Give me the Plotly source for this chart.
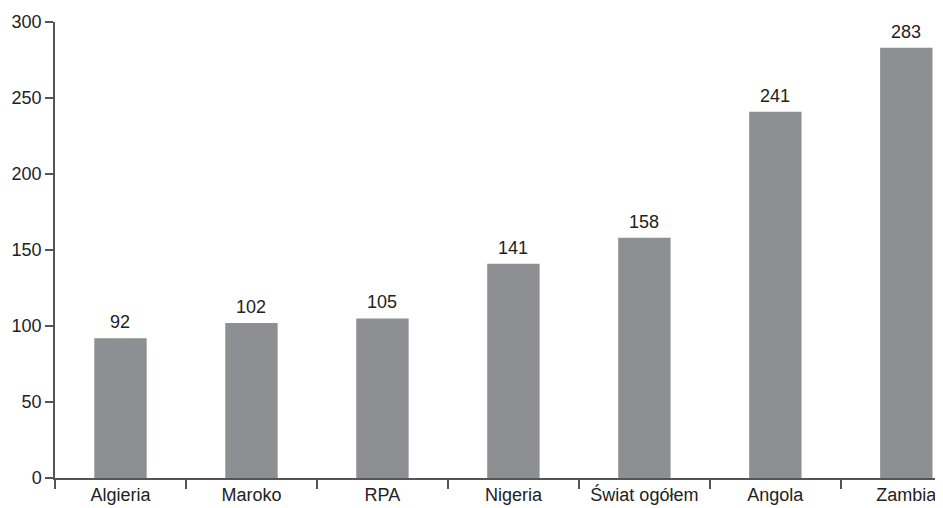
import plotly.graph_objects as go

categories = ["Algieria", "Maroko", "RPA", "Nigeria", "Świat ogółem", "Angola", "Zambia"]
values = [92, 102, 105, 141, 158, 241, 283]
y_ticks = [0, 50, 100, 150, 200, 250, 300]

FONT = "Liberation Sans, Arial, sans-serif"

fig = go.Figure()
fig.add_trace(go.Bar(
    x=categories, y=values,
    width=0.4,
    marker=dict(color="#8e8f93", line=dict(width=0)),
    hoverinfo="x+y",
))

for c, v in zip(categories, values):
    fig.add_annotation(
        x=c, y=v, text=str(v), showarrow=False,
        yanchor="bottom", yshift=4,
        font=dict(family=FONT, size=18, color="#222222"),
    )

# page body has an 8px margin, so the figure is sized to fit the window
fig.update_layout(
    width=935, height=500,
    margin=dict(l=47, r=0, t=14, b=30, autoexpand=False),
    paper_bgcolor="white", plot_bgcolor="white",
    showlegend=False,
    font=dict(family=FONT, size=18, color="#222222"),
)
fig.update_xaxes(
    type="category",
    range=[-0.5, 6.28],
    automargin=False,
    showline=True, linecolor="#555555", linewidth=1.5,
    ticks="outside", tickson="boundaries", ticklen=9, tickcolor="#555555", tickwidth=1.5,
    showgrid=False, zeroline=False,
    tickfont=dict(family=FONT, size=18, color="#222222"),
)
fig.update_yaxes(
    range=[0, 300],
    tickvals=y_ticks,
    automargin=False,
    showline=True, linecolor="#555555", linewidth=1.5,
    ticks="outside", ticklen=8, tickcolor="#555555", tickwidth=1.5,
    showgrid=False, zeroline=False,
    tickfont=dict(family=FONT, size=18, color="#222222"),
)

fig.write_html("out.html")
